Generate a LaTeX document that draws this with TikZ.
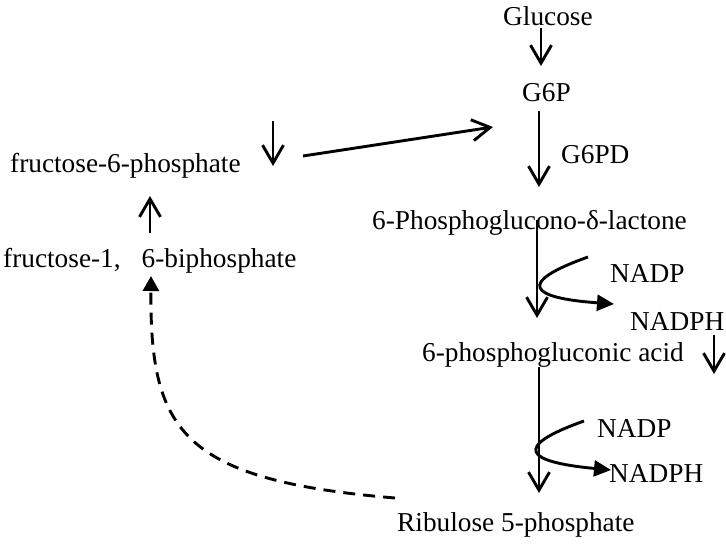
\documentclass[tikz,border=0pt]{standalone}
\usepackage{fontspec}
\setmainfont{Liberation Serif}
\usetikzlibrary{arrows.meta}
\begin{document}
\begin{tikzpicture}[x=1pt,y=-1pt,
  lbl/.style={anchor=base west,inner sep=0pt,font=\fontsize{27.3pt}{33pt}\selectfont},
  openarrow/.style={line width=2.9pt,-{Straight Barb[length=18pt,width=21pt,line width=2.9pt]}},
  fillarrow/.style={line width=2.9pt,-{Triangle[length=17pt,width=16pt]}},
  dasharrow/.style={line width=2.9pt,dash pattern=on 12pt off 8pt,-{Triangle[length=15pt,width=16pt]}}]
\path[use as bounding box] (0,0) rectangle (726,544);

% texts
\node[lbl] (glc) at (503,25) {Glucose};
\node[lbl] (g6p) at (522,101) {G6P};
\node[lbl] (g6pd) at (561,163) {G6PD};
\node[lbl] (lac) at (372,229) {6-Phosphoglucono-δ-lactone};
\node[lbl] (nadp1) at (610,282) {NADP};
\node[lbl] (nadph1) at (630,330) {NADPH};
\node[lbl] (acid) at (422,361) {6-phosphogluconic acid};
\node[lbl] (nadp2) at (597,437) {NADP};
\node[lbl] (nadph2) at (609,482) {NADPH};
\node[lbl] (rib) at (397,531) {Ribulose 5-phosphate};
\node[lbl] (f6p) at (10,172) {fructose-6-phosphate};
\node[lbl] (fbp) at (3,267) {fructose-1,\hspace{0.77em}6-biphosphate};

% coordinates for arrow ends
\coordinate (a1s) at (541,28);  \coordinate (a1e) at (541,66);
\coordinate (a2s) at (539,111); \coordinate (a2e) at (539,187);
\coordinate (a3s) at (537,220); \coordinate (a3e) at (537,318);
\coordinate (a4s) at (539,367); \coordinate (a4e) at (539,493);
\coordinate (c1s) at (588,257); \coordinate (c1e) at (614,304);
\coordinate (c2s) at (584,421); \coordinate (c2e) at (611,470);
\coordinate (d1s) at (714,335); \coordinate (d1e) at (714,374);
\coordinate (d2s) at (273,121); \coordinate (d2e) at (273,166);
\coordinate (u1s) at (150,233); \coordinate (u1e) at (150,196);
\coordinate (l1s) at (303,156); \coordinate (l1e) at (493,127);
\coordinate (ds) at (395,498);  \coordinate (de) at (151,276);

% arrows
\draw[openarrow] (a1s) -- (a1e);
\draw[openarrow] (a2s) -- (a2e);
\draw[openarrow] (a3s) -- (a3e);
\draw[openarrow] (a4s) -- (a4e);
\draw[openarrow] (d1s) -- (d1e);
\draw[openarrow] (d2s) -- (d2e);
\draw[openarrow] (u1s) -- (u1e);
\draw[openarrow] (l1s) -- (l1e);
\draw[fillarrow] (c1s) .. controls (515,283) and (530,298) .. (c1e);
\draw[fillarrow] (c2s) .. controls (511,447) and (526,462) .. (c2e);
\draw[dasharrow] (ds) .. controls (180,480) and (150,430) .. (de);
\end{tikzpicture}
\end{document}
